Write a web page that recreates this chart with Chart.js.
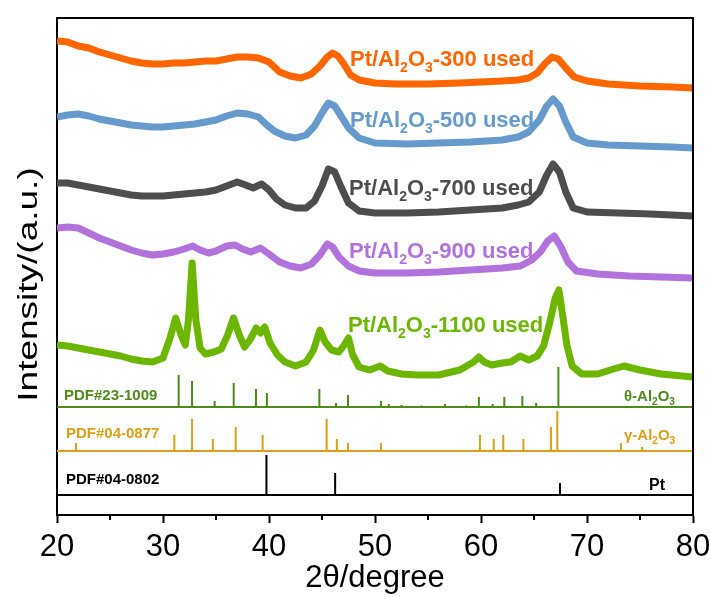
<!DOCTYPE html>
<html>
<head>
<meta charset="utf-8">
<script src="https://cdn.jsdelivr.net/npm/chart.js@4.4.1/dist/chart.umd.min.js"></script>
<style>
  html, body { margin: 0; padding: 0; background: #fff; }
  canvas { display: block; }
</style>
</head>
<body>
<canvas id="xrd" width="710" height="597"></canvas>
<script>
// measured patterns: 2theta (deg) and stacked intensity (a.u., offset already included)
const angles300 = [20,21,22,23,24,25,26,27,28,29,30,31,32,33,34,35,36,37,38,39,40,41,42,43,44,44.8,45.5,46,46.5,47,47.7,48.5,50,52,55,58,60,62,63.5,64.5,65.3,66,66.7,67.3,68,68.8,70,72,75,78,80];
const counts300 = [474,473,469,467,463,460,457,454,452,451,451,452,452,453,454,454,456,458,458,457,453,443,439,437,441,449,458,462,459,452,440,435,432,431,431,432,433,434,435,437,442,451,458,456,447,438,434,431,429,428,427];

const angles500 = [20,21,22,23,24,25,26,27,28,29,30,31,32,33,34,35,36,37,38,39,39.7,40.5,41.5,42.5,43.5,44.3,45,45.6,46.2,46.8,47.5,48.5,50,53,56,59,62,63.5,64.5,65.5,66.2,66.8,67.4,68,68.7,70,72,75,78,80];
const counts500 = [398,400,401,399,396,394,392,390,389,388,388,389,390,391,393,395,399,402,401,398,391,384,379,377,380,389,402,412,409,399,387,377,372,371,372,373,375,378,383,395,409,416,409,393,378,372,370,369,368,367];

const angles700 = [20,21,22,23,24,25,26,27,28,29,30,31,32,33,34,35,36,37,37.8,38.5,39.3,40,40.7,41.5,42.5,43.5,44.3,45,45.6,46.2,46.8,47.5,48.5,50,53,56,59,62,63.5,64.5,65.5,66.2,66.8,67.4,68,68.7,70,73,76,80];
const counts700 = [332,332,330,328,326,324,322,320,319,319,319,320,321,322,323,325,329,333,330,327,331,325,316,310,307,307,314,329,346,343,328,312,304,302,302,303,305,307,310,313,323,340,351,343,323,307,303,302,301,299];

const angles900 = [20,21,22,23,24,25,26,27,28,29,30,31,32,32.8,33.5,34.3,35,36,36.8,37.5,38.3,39.2,40,41,42,43,44,44.8,45.5,46,46.6,47.5,48.5,50,53,56,59,62,63.7,64.8,65.6,66.3,66.9,67.5,68.2,69,71,74,77,80];
const counts900 = [287,288,287,282,277,273,269,265,262,260,261,263,266,269,265,262,264,269,270,266,263,267,261,253,249,247,251,260,271,268,258,249,244,242,242,243,245,247,249,255,263,274,279,269,253,244,241,239,238,237];

const angles1100 = [20,21,22,23,24,25,26,27,28,29,30,30.6,31.2,31.7,32.1,32.4,32.75,33.1,33.5,34,34.8,35.5,36.1,36.65,37.2,37.7,38.2,38.8,39.2,39.6,40.1,40.8,41.5,42.5,43.5,44.2,44.8,45.3,45.9,46.6,47.1,47.5,47.9,48.5,49.5,50.5,51.2,52.5,54,56,58,59.3,59.8,60.3,61,62,62.8,63.7,64.5,65.3,65.9,66.5,67,67.35,67.7,68.1,68.6,69.5,71,72.5,73.5,75,77,80];
const counts1100 = [170,169,167,165,163,161,159,156,154,153,157,175,197,180,170,195,252,195,167,161,163,166,180,197,180,168,175,187,182,188,172,160,153,149,153,165,185,173,165,163,170,177,160,148,145,149,144,141,140,140,145,153,158,153,150,152,153,159,155,159,169,193,217,225,200,170,149,141,141,146,149,145,141,138];

// reference cards: line positions and relative heights
const thetaLines = [31.48,32.74,34.87,36.67,38.77,39.8,44.75,46.32,47.45,50.57,51.3,52.5,54.4,56.6,58.6,59.8,61.1,62.2,63.9,65.2,67.3];
const thetaHeights = [32,26,6,24,18,14,18,4,12,6,3,2,1.5,3,1.5,10,3,10,11,4,40];
const gammaLines = [21.8,31.07,32.74,34.7,36.86,39.4,45.44,46.4,47.45,50.57,59.9,61.2,62.1,64.0,66.6,67.2,73.2,75.2];
const gammaHeights = [8,16,32,12,24,16,32,12,8,8,16,12,16,12,24,40,8,4];
const ptLines = [39.76,46.24,67.45];
const ptHeights = [40,22,12];

const thetaBase = 108;
const gammaBase = 64;
const ptBase = 20;

function toPoints(xs, ys) {
  return xs.map((x, i) => ({ x: x, y: ys[i] }));
}

// baseline with a spike for each card line
function stickPoints(lines, heights, base) {
  const pts = [{ x: 20, y: base }];
  lines.forEach((p, i) => {
    pts.push({ x: p, y: base }, { x: p, y: base + heights[i] }, { x: p, y: base });
  });
  pts.push({ x: 80, y: base });
  return pts;
}

const COLORS = {
  c300: '#ff6600',
  c500: '#6699cc',
  c700: '#4d4d4d',
  c900: '#b173db',
  c1100: '#6cb600',
  theta: '#4f8a1c',
  gamma: '#d9a018',
  pt: '#000000'
};

function curve(data, color) {
  return { data: data, borderColor: color, borderWidth: 7, pointRadius: 0, borderJoinStyle: 'round', tension: 0 };
}
function sticks(data, color) {
  return { data: data, borderColor: color, borderWidth: 2, pointRadius: 0, borderJoinStyle: 'miter', tension: 0 };
}

const FONT = '"Liberation Sans", Arial, Helvetica, sans-serif';

// text labels placed in data coordinates: [parts, 2theta, intensity, color, size]
const labels = [
  [[['Pt/Al'], ['2', 1], ['O'], ['3', 1], ['-300 used']], 47.64, 449, COLORS.c300, 22],
  [[['Pt/Al'], ['2', 1], ['O'], ['3', 1], ['-500 used']], 47.64, 388, COLORS.c500, 22],
  [[['Pt/Al'], ['2', 1], ['O'], ['3', 1], ['-700 used']], 47.55, 320, COLORS.c700, 22],
  [[['Pt/Al'], ['2', 1], ['O'], ['3', 1], ['-900 used']], 47.55, 257, COLORS.c900, 22],
  [[['Pt/Al'], ['2', 1], ['O'], ['3', 1], ['-1100 used']], 47.45, 183, COLORS.c1100, 22],
  [[['PDF#23-1009']], 20.66, 115, COLORS.theta, 15],
  [[['PDF#04-0877']], 20.85, 77, COLORS.gamma, 15],
  [[['PDF#04-0802']], 20.85, 31, COLORS.pt, 15],
  [[['\u03b8-Al'], ['2', 1], ['O'], ['3', 1]], 73.49, 114, COLORS.theta, 15],
  [[['\u03b3-Al'], ['2', 1], ['O'], ['3', 1]], 73.49, 75, COLORS.gamma, 15],
  [[['Pt']], 75.85, 25, COLORS.pt, 16]
];

const labelPlugin = {
  id: 'labels',
  afterDatasetsDraw(chart) {
    const ctx = chart.ctx;
    const xs = chart.scales.x, ys = chart.scales.y;
    ctx.save();
    ctx.textBaseline = 'alphabetic';
    ctx.textAlign = 'left';
    labels.forEach(([parts, xv, yv, color, size]) => {
      let x = xs.getPixelForValue(xv);
      const y = ys.getPixelForValue(yv);
      ctx.fillStyle = color;
      parts.forEach(([t, sub]) => {
        const s = sub ? Math.round(size * 0.65) : size;
        ctx.font = 'bold ' + s + 'px ' + FONT;
        ctx.fillText(t, x, sub ? y + size * 0.27 : y);
        x += ctx.measureText(t).width;
      });
    });
    ctx.restore();
  }
};

// frame on top/right, minor ticks on the 2theta axis, narrow y title
const framePlugin = {
  id: 'frame',
  afterDraw(chart) {
    const { ctx, chartArea } = chart;
    const xs = chart.scales.x;
    ctx.save();
    ctx.strokeStyle = '#000';
    ctx.lineWidth = 2;
    ctx.beginPath();
    ctx.moveTo(chartArea.left, chartArea.top);
    ctx.lineTo(chartArea.right, chartArea.top);
    ctx.lineTo(chartArea.right, chartArea.bottom);
    ctx.stroke();
    for (let v = 25; v < 80; v += 10) {
      const px = Math.round(xs.getPixelForValue(v));
      ctx.beginPath();
      ctx.moveTo(px, chartArea.bottom);
      ctx.lineTo(px, chartArea.bottom + 5);
      ctx.stroke();
    }
    ctx.translate(29, (chartArea.top + chartArea.bottom) / 2 + 18);
    ctx.scale(0.76, 1);
    ctx.rotate(-Math.PI / 2);
    ctx.fillStyle = '#000';
    ctx.font = '37px ' + FONT;
    ctx.textAlign = 'center';
    ctx.textBaseline = 'middle';
    ctx.fillText('Intensity/(a.u.)', 0, 0);
    ctx.restore();
  }
};

new Chart(document.getElementById('xrd'), {
  type: 'line',
  data: {
    datasets: [
      curve(toPoints(angles300, counts300), COLORS.c300),
      curve(toPoints(angles500, counts500), COLORS.c500),
      curve(toPoints(angles700, counts700), COLORS.c700),
      curve(toPoints(angles900, counts900), COLORS.c900),
      curve(toPoints(angles1100, counts1100), COLORS.c1100),
      sticks(stickPoints(thetaLines, thetaHeights, thetaBase), COLORS.theta),
      sticks(stickPoints(gammaLines, gammaHeights, gammaBase), COLORS.gamma),
      sticks(stickPoints(ptLines, ptHeights, ptBase), COLORS.pt)
    ]
  },
  options: {
    responsive: false,
    animation: false,
    layout: { padding: { top: 18, right: 17, left: 0, bottom: 0 } },
    plugins: { legend: { display: false }, tooltip: { enabled: false } },
    scales: {
      x: {
        type: 'linear',
        min: 20,
        max: 80,
        afterFit: s => { s.height = 82; s.paddingLeft = 0; s.paddingRight = 0; },
        ticks: {
          stepSize: 10,
          color: '#000',
          padding: 6,
          font: { family: FONT, size: 31 }
        },
        grid: { drawOnChartArea: false, tickLength: 8, tickWidth: 2, tickColor: '#000' },
        border: { color: '#000', width: 2 },
        title: {
          display: true,
          text: '2\u03b8/degree',
          color: '#000',
          padding: { top: 0, bottom: 0 },
          font: { family: FONT, size: 31 }
        }
      },
      y: {
        min: 0,
        max: 497,
        afterFit: s => { s.width = 57; },
        ticks: { display: false },
        grid: { display: true, drawOnChartArea: false, drawTicks: false },
        border: { color: '#000', width: 2 },
        title: { display: false }
      }
    }
  },
  plugins: [labelPlugin, framePlugin]
});
</script>
</body>
</html>
